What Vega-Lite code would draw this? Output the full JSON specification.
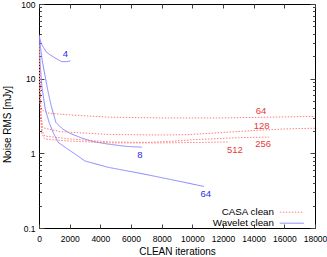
{
  "$schema": "https://vega.github.io/schema/vega-lite/v6.json",
  "width": 276,
  "height": 224,
  "autosize": {"type": "none"},
  "padding": {"left": 39, "top": 4, "right": 12, "bottom": 29},
  "background": "white",
  "config": {
    "font": "Liberation Sans",
    "view": {"stroke": "#000", "strokeWidth": 1},
    "axis": {"grid": false, "domain": false, "labelFontSize": 8.5, "labelColor": "#000", "titleFontSize": 10, "titleFontWeight": "normal", "titleColor": "#000", "tickColor": "#444", "tickWidth": 1}
  },
  "datasets": {
    "curves": [
      {"m": "Wavelet clean", "n": "4", "it": 0, "rms": 38},
      {"m": "Wavelet clean", "n": "4", "it": 130, "rms": 30},
      {"m": "Wavelet clean", "n": "4", "it": 300, "rms": 26},
      {"m": "Wavelet clean", "n": "4", "it": 460, "rms": 23},
      {"m": "Wavelet clean", "n": "4", "it": 700, "rms": 21},
      {"m": "Wavelet clean", "n": "4", "it": 1110, "rms": 18.6},
      {"m": "Wavelet clean", "n": "4", "it": 1480, "rms": 16.9},
      {"m": "Wavelet clean", "n": "4", "it": 1800, "rms": 16.9},
      {"m": "Wavelet clean", "n": "4", "it": 2040, "rms": 17.3},
      {"m": "Wavelet clean", "n": "8", "it": 0, "rms": 38},
      {"m": "Wavelet clean", "n": "8", "it": 200, "rms": 18},
      {"m": "Wavelet clean", "n": "8", "it": 345, "rms": 12.4},
      {"m": "Wavelet clean", "n": "8", "it": 570, "rms": 7},
      {"m": "Wavelet clean", "n": "8", "it": 800, "rms": 4.3},
      {"m": "Wavelet clean", "n": "8", "it": 1100, "rms": 2.6},
      {"m": "Wavelet clean", "n": "8", "it": 1500, "rms": 2.15},
      {"m": "Wavelet clean", "n": "8", "it": 2000, "rms": 1.86},
      {"m": "Wavelet clean", "n": "8", "it": 2800, "rms": 1.6},
      {"m": "Wavelet clean", "n": "8", "it": 3500, "rms": 1.44},
      {"m": "Wavelet clean", "n": "8", "it": 4500, "rms": 1.33},
      {"m": "Wavelet clean", "n": "8", "it": 5700, "rms": 1.24},
      {"m": "Wavelet clean", "n": "8", "it": 6700, "rms": 1.21},
      {"m": "Wavelet clean", "n": "64", "it": 0, "rms": 38},
      {"m": "Wavelet clean", "n": "64", "it": 80, "rms": 15},
      {"m": "Wavelet clean", "n": "64", "it": 200, "rms": 7.5},
      {"m": "Wavelet clean", "n": "64", "it": 400, "rms": 4},
      {"m": "Wavelet clean", "n": "64", "it": 670, "rms": 2.55},
      {"m": "Wavelet clean", "n": "64", "it": 950, "rms": 1.85},
      {"m": "Wavelet clean", "n": "64", "it": 1250, "rms": 1.4},
      {"m": "Wavelet clean", "n": "64", "it": 3000, "rms": 0.79},
      {"m": "Wavelet clean", "n": "64", "it": 4500, "rms": 0.65},
      {"m": "Wavelet clean", "n": "64", "it": 6600, "rms": 0.54},
      {"m": "Wavelet clean", "n": "64", "it": 8500, "rms": 0.45},
      {"m": "Wavelet clean", "n": "64", "it": 10760, "rms": 0.36},
      {"m": "CASA clean", "n": "64", "it": 0, "rms": 28},
      {"m": "CASA clean", "n": "64", "it": 30, "rms": 12},
      {"m": "CASA clean", "n": "64", "it": 60, "rms": 5},
      {"m": "CASA clean", "n": "64", "it": 120, "rms": 3.9},
      {"m": "CASA clean", "n": "64", "it": 300, "rms": 3.7},
      {"m": "CASA clean", "n": "64", "it": 670, "rms": 3.44},
      {"m": "CASA clean", "n": "64", "it": 2000, "rms": 3.27},
      {"m": "CASA clean", "n": "64", "it": 4600, "rms": 3.05},
      {"m": "CASA clean", "n": "64", "it": 8000, "rms": 2.98},
      {"m": "CASA clean", "n": "64", "it": 12000, "rms": 2.98},
      {"m": "CASA clean", "n": "64", "it": 15000, "rms": 3.05},
      {"m": "CASA clean", "n": "64", "it": 18000, "rms": 3.12},
      {"m": "CASA clean", "n": "128", "it": 0, "rms": 28},
      {"m": "CASA clean", "n": "128", "it": 50, "rms": 15},
      {"m": "CASA clean", "n": "128", "it": 100, "rms": 6},
      {"m": "CASA clean", "n": "128", "it": 150, "rms": 3},
      {"m": "CASA clean", "n": "128", "it": 250, "rms": 2.2},
      {"m": "CASA clean", "n": "128", "it": 1400, "rms": 1.95},
      {"m": "CASA clean", "n": "128", "it": 4600, "rms": 1.79},
      {"m": "CASA clean", "n": "128", "it": 8000, "rms": 1.76},
      {"m": "CASA clean", "n": "128", "it": 9800, "rms": 1.78},
      {"m": "CASA clean", "n": "128", "it": 11800, "rms": 1.89},
      {"m": "CASA clean", "n": "128", "it": 14000, "rms": 2.02},
      {"m": "CASA clean", "n": "128", "it": 16000, "rms": 2.12},
      {"m": "CASA clean", "n": "128", "it": 18000, "rms": 2.17},
      {"m": "CASA clean", "n": "256", "it": 0, "rms": 28},
      {"m": "CASA clean", "n": "256", "it": 50, "rms": 12},
      {"m": "CASA clean", "n": "256", "it": 100, "rms": 4},
      {"m": "CASA clean", "n": "256", "it": 200, "rms": 2.0},
      {"m": "CASA clean", "n": "256", "it": 390, "rms": 1.7},
      {"m": "CASA clean", "n": "256", "it": 2000, "rms": 1.56},
      {"m": "CASA clean", "n": "256", "it": 4600, "rms": 1.42},
      {"m": "CASA clean", "n": "256", "it": 7000, "rms": 1.4},
      {"m": "CASA clean", "n": "256", "it": 8500, "rms": 1.44},
      {"m": "CASA clean", "n": "256", "it": 10000, "rms": 1.52},
      {"m": "CASA clean", "n": "256", "it": 11800, "rms": 1.58},
      {"m": "CASA clean", "n": "256", "it": 13000, "rms": 1.62},
      {"m": "CASA clean", "n": "256", "it": 15000, "rms": 1.65},
      {"m": "CASA clean", "n": "512", "it": 0, "rms": 28},
      {"m": "CASA clean", "n": "512", "it": 50, "rms": 10},
      {"m": "CASA clean", "n": "512", "it": 100, "rms": 3},
      {"m": "CASA clean", "n": "512", "it": 200, "rms": 1.8},
      {"m": "CASA clean", "n": "512", "it": 400, "rms": 1.55},
      {"m": "CASA clean", "n": "512", "it": 2000, "rms": 1.46},
      {"m": "CASA clean", "n": "512", "it": 4600, "rms": 1.38},
      {"m": "CASA clean", "n": "512", "it": 8000, "rms": 1.38},
      {"m": "CASA clean", "n": "512", "it": 10500, "rms": 1.4},
      {"m": "CASA clean", "n": "512", "it": 12300, "rms": 1.42}
    ],
    "labels": [
      {"m": "Wavelet clean", "n": "4", "it": 1715, "rms": 21.2},
      {"m": "Wavelet clean", "n": "8", "it": 6585, "rms": 0.953},
      {"m": "Wavelet clean", "n": "64", "it": 10870, "rms": 0.283},
      {"m": "CASA clean", "n": "64", "it": 14480, "rms": 3.73},
      {"m": "CASA clean", "n": "128", "it": 14520, "rms": 2.35},
      {"m": "CASA clean", "n": "256", "it": 14620, "rms": 1.33},
      {"m": "CASA clean", "n": "512", "it": 12780, "rms": 1.11}
    ]
  },
  "resolve": {"scale": {"x": "independent", "y": "independent"}},
  "layer": [
    {
      "data": {"name": "curves"},
      "mark": {"type": "line", "strokeWidth": 1, "clip": true},
      "encoding": {
        "x": {
          "field": "it", "type": "quantitative",
          "scale": {"domain": [0, 18000], "nice": false, "zero": false},
          "axis": {"orient": "bottom", "values": [0, 2000, 4000, 6000, 8000, 10000, 12000, 14000, 16000, 18000], "format": "d", "tickSize": -4, "labelPadding": 10, "labelFlush": false, "title": "CLEAN iterations", "titleY": 23.5, "titleBaseline": "middle"}
        },
        "y": {
          "field": "rms", "type": "quantitative",
          "scale": {"type": "log", "domain": [0.1, 100], "nice": false},
          "axis": {
            "orient": "left",
            "values": [0.1, 0.2, 0.3, 0.4, 0.5, 0.6, 0.7, 0.8, 0.9, 1, 2, 3, 4, 5, 6, 7, 8, 9, 10, 20, 30, 40, 50, 60, 70, 80, 90, 100],
            "format": "~g",
            "labelExpr": "indexof(['0.1','1','10','100'], datum.label) >= 0 ? datum.label : ''",
            "tickSize": {"condition": {"test": "indexof([0.1, 1, 10, 100], datum.value) >= 0", "value": -5}, "value": -2.5},
            "labelPadding": 9,
            "labelFlush": false,
            "title": "Noise RMS [mJy]",
            "titleX": -32, "titleY": 120, "titleAngle": -90, "titleAlign": "center", "titleBaseline": "middle"
          }
        },
        "color": {
          "field": "m", "type": "nominal",
          "scale": {"domain": ["CASA clean", "Wavelet clean"], "range": ["#ff8080", "#8585ff"]},
          "legend": {"title": null, "orient": "none", "legendX": 247.3, "legendY": 202.7, "symbolType": "M-2.4,0H2.4", "symbolSize": 100, "symbolStrokeWidth": 1, "labelAlign": "right", "labelOffset": -23.3, "labelFontSize": 9.8, "labelColor": "#000", "padding": 0, "rowPadding": 0}
        },
        "strokeDash": {
          "field": "m", "type": "nominal",
          "scale": {"domain": ["CASA clean", "Wavelet clean"], "range": [[1.5, 1.5], [1, 0]]},
          "legend": {"title": null, "orient": "none", "legendX": 247.3, "legendY": 202.7, "symbolType": "M-2.4,0H2.4", "symbolSize": 100, "symbolStrokeWidth": 1, "labelAlign": "right", "labelOffset": -23.3, "labelFontSize": 9.8, "labelColor": "#000", "padding": 0, "rowPadding": 0}
        },
        "detail": {"field": "n", "type": "nominal"}
      }
    },
    {
      "data": {"name": "labels"},
      "encoding": {
        "x": {
          "field": "it", "type": "quantitative",
          "scale": {"domain": [0, 18000], "nice": false, "zero": false},
          "axis": {"orient": "top", "values": [0, 2000, 4000, 6000, 8000, 10000, 12000, 14000, 16000, 18000], "labels": false, "tickSize": -4, "title": null}
        },
        "y": {
          "field": "rms", "type": "quantitative",
          "scale": {"type": "log", "domain": [0.1, 100], "nice": false},
          "axis": {
            "orient": "right",
            "values": [0.1, 0.2, 0.3, 0.4, 0.5, 0.6, 0.7, 0.8, 0.9, 1, 2, 3, 4, 5, 6, 7, 8, 9, 10, 20, 30, 40, 50, 60, 70, 80, 90, 100],
            "labels": false,
            "tickSize": {"condition": {"test": "indexof([0.1, 1, 10, 100], datum.value) >= 0", "value": -5}, "value": -2.5},
            "title": null
          }
        },
        "text": {"field": "n", "type": "nominal"}
      },
      "layer": [
        {"transform": [{"filter": "datum.m == 'Wavelet clean'"}], "mark": {"type": "text", "color": "#2a2ae8", "fontSize": 9.5, "baseline": "middle", "align": "center"}},
        {"transform": [{"filter": "datum.m == 'CASA clean'"}], "mark": {"type": "text", "color": "#e83a3a", "fontSize": 9.5, "baseline": "middle", "align": "center"}}
      ]
    }
  ]
}
